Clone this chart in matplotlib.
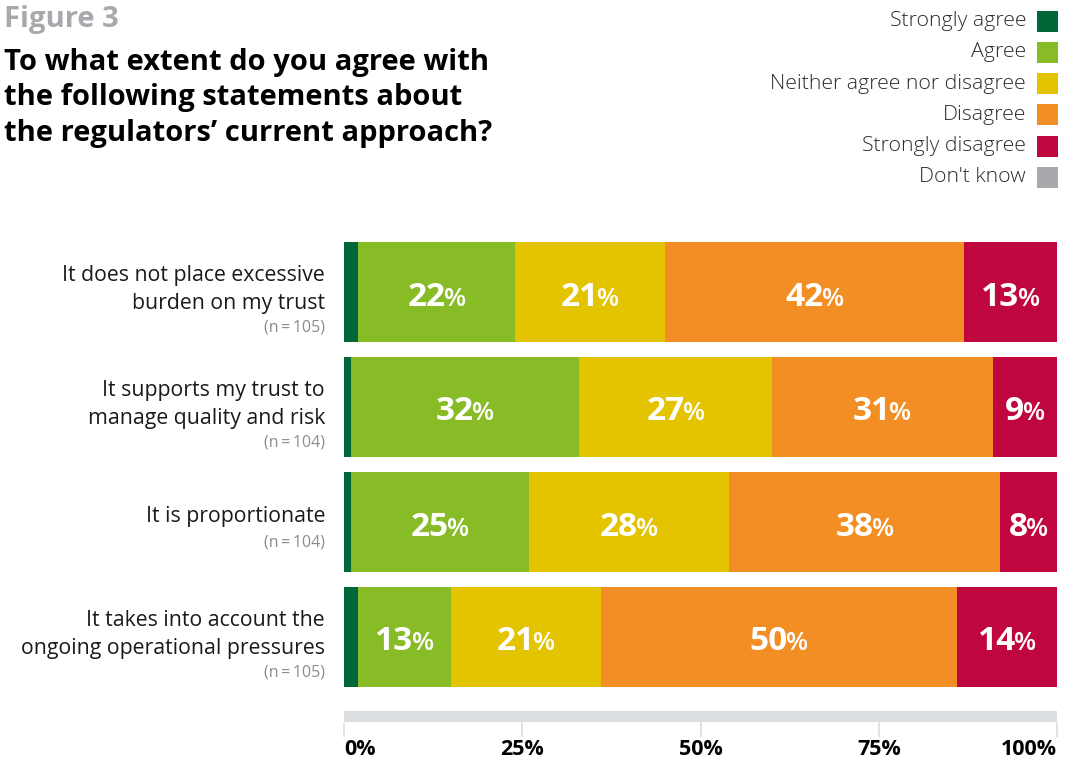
import matplotlib
matplotlib.use("Agg")
import matplotlib.pyplot as plt
from matplotlib.patches import Rectangle
from matplotlib.transforms import ScaledTranslation

# Survey data (percent of respondents)
statements = [
    "It does not place excessive\nburden on my trust",
    "It supports my trust to\nmanage quality and risk",
    "It is proportionate",
    "It takes into account the\nongoing operational pressures",
]
sample_sizes = [105, 104, 104, 105]
categories = ["Strongly agree", "Agree", "Neither agree nor disagree",
              "Disagree", "Strongly disagree", "Don't know"]
strongly_agree = [2, 1, 1, 2]
agree = [22, 32, 25, 13]
neither = [21, 27, 28, 21]
disagree = [42, 31, 38, 50]
strongly_disagree = [13, 9, 8, 14]
dont_know = [0, 0, 0, 0]
ticks = [0, 25, 50, 75, 100]

colors = ["#006838", "#88bc27", "#e4c300", "#f28e23", "#c0063f", "#a7a9ac"]
band_gray = "#dcdfe2"

W, H, DPI = 1085, 762, 100
fig = plt.figure(figsize=(W / DPI, H / DPI), dpi=DPI)

def fx(px):
    return px / W

def fy(py):
    return 1 - py / H

TXT = ["Open Sans", "DejaVu Sans"]

# Headline
fig.text(fx(4), fy(19), "Figure 3", family=TXT, weight="bold", size=21,
         color="#a7a9ac", ha="left", va="center")
fig.text(fx(4), fy(98), "To what extent do you agree with\nthe following statements about\n"
         "the regulators\u2019 current approach?", family=TXT, weight="bold", size=21,
         color="black", ha="left", va="center", linespacing=1.3)

# Legend (labels on the left, swatches on the right)
for i, (cat, col) in enumerate(zip(categories, colors)):
    yc = 21 + i * 31.3
    fig.text(fx(1026), fy(yc), cat, family=TXT, weight="light", size=15.3,
             color="#2b2b2b", ha="right", va="center")
    fig.patches.append(Rectangle((fx(1037), fy(yc + 10.5)), fx(21), 21 / H,
                                 transform=fig.transFigure, facecolor=col,
                                 edgecolor="none"))

# Bars
ax = fig.add_axes([fx(344), fy(737), fx(713), 507 / H])
series = [strongly_agree, agree, neither, disagree, strongly_disagree, dont_know]
ypos = list(range(len(statements)))
left = [0] * len(statements)
bar_h = 100 / 115
label_artists = []
for si, (vals, col) in enumerate(zip(series, colors)):
    ax.barh(ypos, vals, left=left, height=bar_h, color=col, edgecolor="none")
    if si in (1, 2, 3, 4):
        for yi, (l, v) in enumerate(zip(left, vals)):
            base_y = yi + 13.5 / 115
            t1 = ax.text(l + v / 2, base_y, f"{v}", family=TXT, weight="bold", size=24,
                         color="white", ha="center", va="baseline")
            t2 = ax.annotate("%", xy=(1, base_y), xycoords=(t1, ax.transData),
                             xytext=(-1.2, 0), textcoords="offset points", family=TXT,
                             weight="semibold", size=18.5, color="white",
                             ha="left", va="baseline")
            label_artists.append((t1, t2))
    left = [a + b for a, b in zip(left, vals)]

# Grey scale band with ticks
ax.barh([(716.5 - 292) / 115], [100], left=[0], height=11 / 115, color=band_gray,
        edgecolor="none")
ax.set_xlim(0, 100)
ax.set_ylim((737 - 292) / 115, (230 - 292) / 115)
ax.set_xticks(ticks)
ax.set_xticklabels([f"{t}%" for t in ticks], family=TXT, weight="bold", size=15.5)
tl = ax.get_xticklabels()
tl[0].set_ha("left")
tl[-1].set_ha("right")
ax.tick_params(axis="x", direction="in", length=11, width=1.2, color=band_gray, pad=1.5)
ax.tick_params(axis="y", left=False, labelleft=False)
for s in ax.spines.values():
    s.set_visible(False)

# Statement labels with sample sizes
label_x = -19 / 7.13
for yi, (txt, n) in enumerate(zip(statements, sample_sizes)):
    nlines = txt.count("\n") + 1
    main_y = yi - (0.02 if nlines == 2 else 0.045)
    n_y = yi + (0.31 if nlines == 2 else 0.18)
    ax.text(label_x, main_y, txt, family=TXT, size=15.3, color="#1a1a1a",
            ha="right", va="center", linespacing=1.45)
    ax.text(label_x, n_y, f"(n\u2009=\u2009{n})", family=TXT, size=11.5,
            color="#8a8c8e", ha="right", va="center")

# Centre each number+% pair within its segment
fig.canvas.draw()
r = fig.canvas.get_renderer()
for t1, t2 in label_artists:
    w2 = t2.get_window_extent(r).width
    shift = ScaledTranslation(-(w2 - 1.6) / 2 / DPI, 0, fig.dpi_scale_trans)
    t1.set_transform(ax.transData + shift)

fig.savefig("out.png", dpi=DPI)
